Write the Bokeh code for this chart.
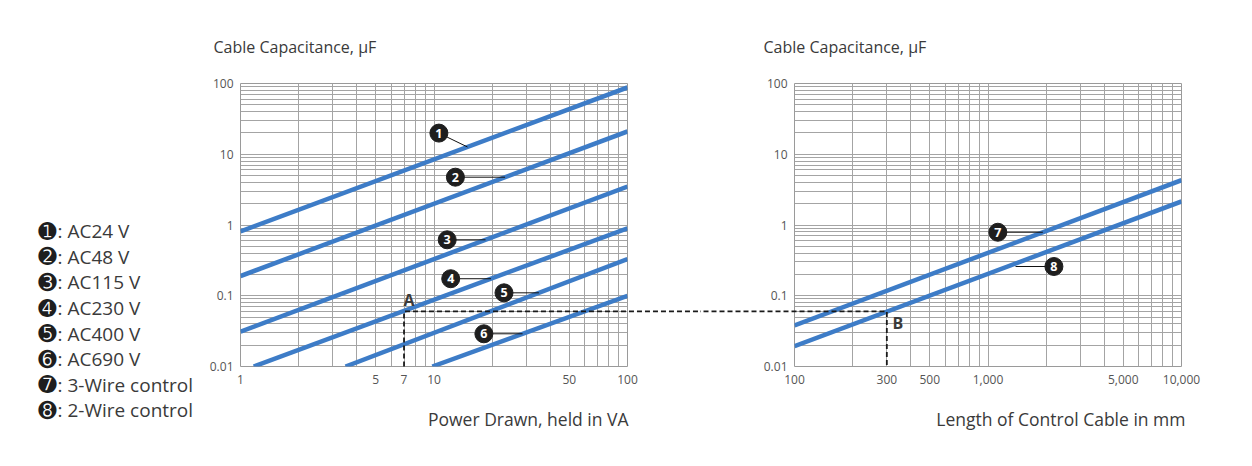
from bokeh.plotting import figure
from bokeh.models import FixedTicker, NumeralTickFormatter, Range1d
from bokeh.layouts import row
from bokeh.embed import file_html
from bokeh.resources import INLINE
from bokeh.core.properties import value
import numpy as np

# ---------------- data ----------------
cap_ticks = [0.01, 0.1, 1, 10, 100]
power_ticks = [1, 5, 7, 10, 50, 100]
length_ticks = [100, 300, 500, 1000, 5000, 10000]

legend_marks = ["\u278a", "\u278b", "\u278c", "\u278d", "\u278e", "\u278f", "\u2790", "\u2791"]
legend_texts = [": AC24 V", ": AC48 V", ": AC115 V", ": AC230 V", ": AC400 V", ": AC690 V",
                ": 3-Wire control", ": 2-Wire control"]

# Power drawn (VA) vs cable capacitance (uF)
ac24_va = [1, 100];     ac24_cap = [0.81, 88]
ac48_va = [1, 100];     ac48_cap = [0.19, 21]
ac115_va = [1, 100];    ac115_cap = [0.031, 3.5]
ac230_va = [1.17, 100]; ac230_cap = [0.01, 0.9]
ac400_va = [3.49, 100]; ac400_cap = [0.01, 0.33]
ac690_va = [9.8, 100];  ac690_cap = [0.01, 0.10]

# Control cable length (mm) vs cable capacitance (uF)
wire3_len = [100, 10000]; wire3_cap = [0.038, 4.3]
wire2_len = [100, 10000]; wire2_cap = [0.0194, 2.15]

# worked example A -> B
example_va = 7
example_cap = 0.06
example_len = 300

# ---------------- styling ----------------
FONT = "Open Sans"
BLUE = "#3d7cc7"
GRID = "#a4a4a4"
TXT = "#3a3a3a"
TICK_TXT = "#555555"
H = 466
FRAME_TOP, FRAME_H = 83, 283
FRAME_W = 387
LEFT_W = 700
RIGHT_W = 1252 - LEFT_W


def decade_minors(lo_exp, hi_exp):
    return [k * 10.0 ** d for d in range(lo_exp, hi_exp) for k in range(2, 10)]


def make_fig(width, x_range, mb_left, mb_right, x_ticks, x_lo_exp, x_hi_exp):
    p = figure(width=width, height=H, x_axis_type="log", y_axis_type="log",
               x_range=x_range, y_range=Range1d(0.01, 100),
               output_backend="svg", toolbar_location=None,
               min_border_left=mb_left, min_border_right=mb_right,
               min_border_top=FRAME_TOP, min_border_bottom=H - FRAME_TOP - FRAME_H)
    p.title.text = ""
    p.outline_line_color = "#9a9a9a"
    p.outline_line_width = 1
    p.background_fill_color = "white"
    p.border_fill_color = "white"
    for ax, ticks in ((p.xaxis, x_ticks), (p.yaxis, cap_ticks)):
        ax.ticker = FixedTicker(ticks=ticks)
        ax.formatter = NumeralTickFormatter(format="0,0.[00]")
        ax.axis_line_color = None
        ax.major_tick_line_color = None
        ax.minor_tick_line_color = None
        ax.major_tick_out = 0
        ax.minor_tick_out = 0
        ax.major_label_text_font = FONT
        ax.major_label_text_font_size = "12px"
        ax.major_label_text_color = TICK_TXT
    p.xaxis.major_label_standoff = 8
    p.yaxis.major_label_standoff = 7
    p.xgrid.ticker = FixedTicker(ticks=[10.0 ** d for d in range(x_lo_exp, x_hi_exp + 1)],
                                 minor_ticks=decade_minors(x_lo_exp, x_hi_exp))
    p.ygrid.ticker = FixedTicker(ticks=cap_ticks, minor_ticks=decade_minors(-2, 2))
    for g in (p.xgrid, p.ygrid):
        g.grid_line_color = GRID
        g.grid_line_width = 1
        g.minor_grid_line_color = GRID
        g.minor_grid_line_width = 1
    return p


def log_interp(xq, xs, ys):
    return float(10 ** np.interp(np.log10(xq), np.log10(xs), np.log10(ys)))


def callout(p, num, cx, cy, lx, ly):
    p.segment(x0=[cx], y0=[cy], x1=[lx], y1=[ly], line_color="#111111", line_width=1)
    p.scatter(x=[cx], y=[cy], size=18, color="#1e1e1e", marker="circle")
    p.text(x=[cx], y=[cy], text=[str(num)], text_color="white", text_align="center",
           text_baseline="middle", text_font=value(FONT), text_font_size="12.5px",
           text_font_style="bold")


def txt(p, x, y, text, dx, dy, size="17px", align="left", style="normal", font=FONT, color=TXT):
    # dx, dy: screen pixel offsets from the data anchor (dy positive = downwards)
    r = p.text(x=[x], y=[y], text=[text], x_offset=dx, y_offset=dy,
               text_font=value(font), text_font_size=size, text_align=align,
               text_baseline="middle", text_color=color, text_font_style=style)
    r.level = "overlay"


# ---------------- left chart: power drawn ----------------
left = make_fig(LEFT_W, Range1d(1, 100), 240, LEFT_W - 240 - FRAME_W, power_ticks, 0, 2)

for xs, ys in ((ac24_va, ac24_cap), (ac48_va, ac48_cap), (ac115_va, ac115_cap),
               (ac230_va, ac230_cap), (ac400_va, ac400_cap), (ac690_va, ac690_cap)):
    left.line(xs, ys, line_color=BLUE, line_width=4.5)

# callouts (circle position, leader end)
callout(left, 1, 10.6, 19.9, 14.9, log_interp(14.9, ac24_va, ac24_cap))
callout(left, 2, 12.9, 4.74, log_interp(4.74, ac48_cap, ac48_va), 4.74)
callout(left, 3, 11.7, 0.618, log_interp(0.618, ac115_cap, ac115_va), 0.618)
callout(left, 4, 12.2, 0.174, log_interp(0.174, ac230_cap, ac230_va), 0.174)
callout(left, 5, 23.0, 0.110, log_interp(0.110, ac400_cap, ac400_va), 0.110)
callout(left, 6, 18.1, 0.029, log_interp(0.029, ac690_cap, ac690_va), 0.029)

# worked example, dashed guide (continues across the gap)
dl = left.line([example_va, example_va, 1e4], [0.01, example_cap, example_cap],
               line_color="#1a1a1a", line_width=1.8, line_dash="5 3")
dl.level = "overlay"
txt(left, example_va, example_cap, "A", 5, -11, size="16px", align="center", style="bold")

# titles
txt(left, 1, 100, "Cable Capacitance, \u03bcF", -27, -37, size="16px")
txt(left, 100, 0.01, "Power Drawn, held in VA", 1, 52, size="17.5px", align="right")

# legend
for i, (m, t) in enumerate(zip(legend_marks, legend_texts)):
    yo = 230.7 + 25.6 * i - 83
    txt(left, 1, 100, m, -193, yo, size="22px", align="center", font="DejaVu Sans", color="#1e1e1e")
    txt(left, 1, 100, t, -183, yo, size="19px")

# ---------------- right chart: control cable length ----------------
right = make_fig(RIGHT_W, Range1d(100, 10000), 94, RIGHT_W - 94 - FRAME_W, length_ticks, 2, 4)

right.line(wire3_len, wire3_cap, line_color=BLUE, line_width=4.5)
right.line(wire2_len, wire2_cap, line_color=BLUE, line_width=4.5)

callout(right, 7, 1124, 0.79, log_interp(0.79, wire3_cap, wire3_len), 0.79)
callout(right, 8, 2191, 0.259, 1388, 0.259)

dr = right.line([1, example_len, example_len], [example_cap, example_cap, 0.01],
                line_color="#1a1a1a", line_width=1.8, line_dash="5 3")
dr.level = "overlay"
txt(right, example_len, example_cap, "B", 11, 12, size="16px", align="center", style="bold")

txt(right, 100, 100, "Cable Capacitance, \u03bcF", -31, -37, size="16px")
txt(right, 10000, 0.01, "Length of Control Cable in mm", 4, 52, size="17.5px", align="right")

layout = row(left, right)
open("out.html", "w").write(file_html(layout, INLINE))
